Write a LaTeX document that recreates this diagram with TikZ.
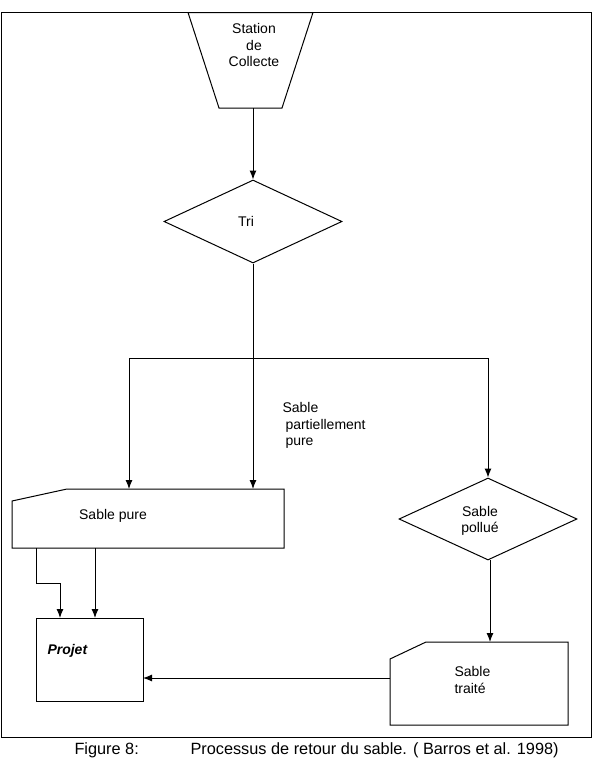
\documentclass[tikz,border=0pt]{standalone}
\usepackage{fontspec}
\setmainfont{Liberation Sans}
\usetikzlibrary{arrows.meta,shapes.geometric}
\begin{document}
\begin{tikzpicture}[x=1pt,y=-1pt, line width=1pt,
  arr/.style={-{Latex[length=9pt,width=7pt]}},
  lbl/.style={font=\fontsize{14}{16.5}\selectfont, inner sep=0pt},
  captionstyle/.style={font=\fontsize{16.3}{19}\selectfont, inner sep=0pt, anchor=base west},
  dia/.style={draw, diamond, inner sep=0pt, minimum width=178pt, minimum height=83pt}]
\useasboundingbox (0,0) rectangle (592,763);
% frame
\draw (1,12.5) rectangle (591,737);
% Station de Collecte (trapezium)
\draw (188,12.5) -- (313,12.5) -- (282,108) -- (219,108) -- cycle;
\node[lbl, align=center] (station) at (254,45) {Station\\de\\Collecte};
\coordinate (stationB) at (253,108);
% Tri
\node[dia] (tri) at (253,221.5) {};
\node[lbl] (tritxt) at (246,221) {Tri};
% Sable pure
\draw (12,501) -- (67,489) -- (284,489) -- (284,548) -- (12,548) -- cycle;
\node[lbl] (pure) at (113,516) {Sable pure};
% Projet
\draw (36,618) rectangle (143,701);
\node[lbl, font=\fontsize{14}{16.5}\selectfont\bfseries\itshape, anchor=west] (projet) at (47,651) {Projet};
% Sable pollue
\node[dia, minimum width=178pt, minimum height=82pt] (pollue) at (488,519) {};
\node[lbl, align=center] (polluetxt) at (480,521) {Sable\\pollué};
% Sable traite
\draw (390,659) -- (426,642) -- (568,642) -- (568,725) -- (390,725) -- cycle;
\node[lbl, align=left, anchor=west] (traite) at (454,680) {Sable\\traité};
% label
\node[lbl, align=left, anchor=north west] (partiel) at (282,402) {Sable\\\hspace*{3pt}partiellement\\\hspace*{3pt}pure};
% coordinates
\coordinate (split) at (253,358);
\coordinate (sl) at (129,358);
\coordinate (sr) at (488,358);
\coordinate (pureT1) at (129,489);
\coordinate (pureT2) at (253,489);
\coordinate (pureB1) at (36,548);
\coordinate (pureB2) at (95,548);
\coordinate (bend1) at (36,583);
\coordinate (bend2) at (60,583);
\coordinate (projT1) at (60,618);
\coordinate (projT2) at (95,618);
\coordinate (traiteT) at (490,642);
\coordinate (polB) at (490,560);
\coordinate (traiteL) at (390,678);
\coordinate (projR) at (143,678);
% connectors
\draw[arr] (stationB) -- (tri.north);
\draw[arr] (tri.south) -- (pureT2);
\draw[arr] (sr) -- (sl) -- (pureT1);
\draw[arr] (sl) -- (sr) -- (pollue.north);
\draw[arr] (polB) -- (traiteT);
\draw[arr] (pureB1) -- (bend1) -- (bend2) -- (projT1);
\draw[arr] (pureB2) -- (projT2);
\draw[arr] (traiteL) -- (projR);
% caption
\node[captionstyle] (fig) at (74,754) {Figure 8:};
\node[captionstyle] (captxt) at (190,754) {Processus de retour du sable. ( Barros et al. 1998)};
\end{tikzpicture}
\end{document}
